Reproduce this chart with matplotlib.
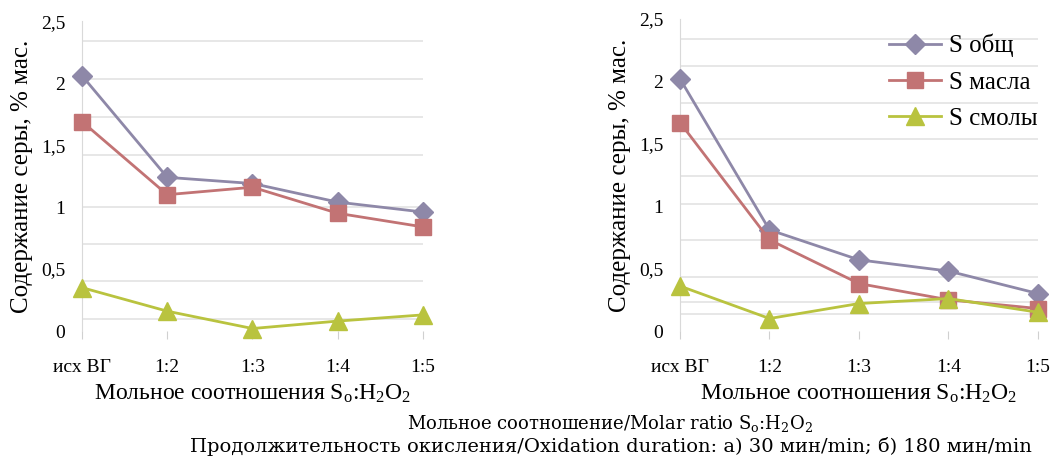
import matplotlib.pyplot as plt

# categories on the x axis
categories = ['исх ВГ', '1:2', '1:3', '1:4', '1:5']

# panel a) 30 min
s_total_a = [2.06, 1.24, 1.19, 1.04, 0.96]
s_oil_a = [1.69, 1.10, 1.16, 0.95, 0.84]
s_resin_a = [0.35, 0.16, 0.02, 0.08, 0.13]

# panel b) 180 min
s_total_b = [2.02, 0.81, 0.57, 0.48, 0.30]
s_oil_b = [1.67, 0.73, 0.38, 0.25, 0.18]
s_resin_b = [0.36, 0.10, 0.22, 0.26, 0.15]

y_ticks = [0, 0.5, 1.0, 1.5, 2.0, 2.5]
y_tick_labels = ['0', '0,5', '1', '1,5', '2', '2,5']

# gridlines as they appear on the scanned figure
grid_a = [0.1, 0.4, 0.7, 1.0, 1.42, 1.73, 2.03, 2.34]
grid_b = [0.14, 0.23, 0.43, 0.73, 1.02, 1.24, 1.54, 1.83, 2.12, 2.34]

series_names = ['S общ', 'S масла', 'S смолы']
colors = ['#8E88A8', '#C27374', '#B9C33F']
markers = ['D', 's', '^']
marker_sizes = [10, 12, 13]

plt.rcParams['font.family'] = ['Liberation Serif', 'DejaVu Serif']
plt.rcParams['mathtext.fontset'] = 'custom'
plt.rcParams['mathtext.rm'] = 'Liberation Serif'

fig = plt.figure(figsize=(10.58, 4.57), dpi=100)
ax_a = fig.add_axes([0.0775, 0.2757, 0.3223, 0.678])
ax_b = fig.add_axes([0.6427, 0.2757, 0.3384, 0.683])

x = list(range(len(categories)))
xlabel = r'Мольное соотношения $\mathregular{S_o}$:$\mathregular{H_2O_2}$'


def draw_panel(ax, data, grid):
    for vals, name, c, m, ms in zip(data, series_names, colors, markers, marker_sizes):
        ax.plot(x, vals, color=c, lw=2.0, marker=m, ms=ms, mec=c, mfc=c,
                label=name, clip_on=False, zorder=3)
    for g in grid:
        ax.axhline(g, color='#E3E3E3', lw=1.2, zorder=1)
    ax.set_xlim(0, len(categories) - 1)
    ax.set_ylim(0, 2.5)
    ax.set_yticks(y_ticks)
    ax.set_yticklabels(y_tick_labels, fontsize=14)
    ax.set_xticks(x)
    ax.set_xticklabels(categories, fontsize=14)
    ax.tick_params(axis='y', length=0, pad=12)
    ax.tick_params(axis='x', length=6, color='#D0D0D0', pad=14)
    for side in ['top', 'right', 'bottom']:
        ax.spines[side].set_visible(False)
    ax.spines['left'].set_color('#D9D9D9')
    ax.set_xlabel(xlabel, fontsize=17, labelpad=5)
    ax.set_ylabel('Содержание серы, % мас.', fontsize=18, labelpad=6)


draw_panel(ax_a, [s_total_a, s_oil_a, s_resin_a], grid_a)
draw_panel(ax_b, [s_total_b, s_oil_b, s_resin_b], grid_b)

ax_b.legend(loc='upper right', bbox_to_anchor=(1.04, 1.0), frameon=False,
            prop={'family': 'Liberation Serif', 'size': 18},
            handlelength=2.1, handletextpad=0.3, labelspacing=0.55,
            borderaxespad=0.2)

fig.text(0.577, 0.073, r'Мольное соотношение/Molar ratio $\mathregular{S_o}$:$\mathregular{H_2O_2}$',
         ha='center', va='center', fontsize=13, family='DejaVu Serif')
fig.text(0.577, 0.022, 'Продолжительность окисления/Oxidation duration: а) 30 мин/min; б) 180 мин/min',
         ha='center', va='center', fontsize=14, family='DejaVu Serif')

fig.savefig('out.png', dpi=100)
